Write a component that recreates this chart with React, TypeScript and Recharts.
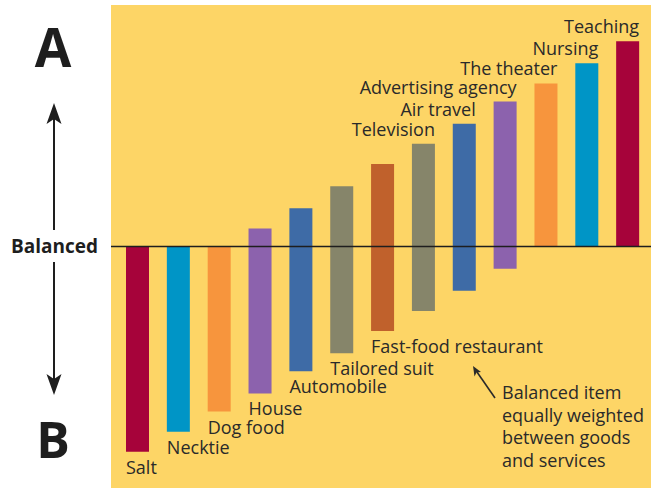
import React from 'react'
import {
  BarChart, Bar, XAxis, YAxis, CartesianGrid, ReferenceLine, LabelList, Cell,
} from 'recharts'

// goods (B) <-> services (A) continuum, values relative to the balanced line
const items = [
  'Salt', 'Necktie', 'Dog food', 'House', 'Automobile', 'Tailored suit',
  'Fast-food restaurant', 'Television', 'Air travel', 'Advertising agency',
  'The theater', 'Nursing', 'Teaching',
]
const lows = [-102, -92, -82, -73, -62, -53, -42, -32, -22, -11, 0, 0, 0]
const highs = [0, 0, 0, 9, 19, 30, 41, 51, 61, 72, 81, 91, 102]
const colors = [
  '#A6033A', '#0095C6', '#F7953D', '#8C62AD', '#3E6BA6', '#86856A', '#C0612C',
  '#86856A', '#3E6BA6', '#8C62AD', '#F7953D', '#0095C6', '#A6033A',
]
const noteLines = ['Balanced item', 'equally weighted', 'between goods', 'and services']

const data = items.map((name, i) => ({ name, range: [lows[i], highs[i]] }))

const FONT = '"Open Sans", sans-serif'
const INK = '#2a2a2a'

function BarLabel(props: any) {
  const x = Number(props.x), y = Number(props.y)
  const w = Number(props.width), h = Number(props.height)
  const i = props.index
  const top = Math.min(y, y + h)
  const bottom = Math.max(y, y + h)
  // mostly-goods items get their name under the bar, mostly-services above it
  const below = lows[i] + highs[i] <= 0
  return (
    <text
      x={below ? x : x + w}
      y={below ? bottom + 22 : top - 8}
      textAnchor={below ? 'start' : 'end'}
      fontFamily={FONT}
      fontSize={18}
      fill={INK}
    >
      {items[i]}
    </text>
  )
}

function Overlay() {
  return (
    <svg width={651} height={489} style={{ position: 'absolute', left: 0, top: 0, pointerEvents: 'none' }}>
      <text x={53} y={67} textAnchor="middle" fontFamily={FONT} fontWeight={700} fontSize={53} fill="#1e1e1e">A</text>
      <text x={53} y={458} textAnchor="middle" fontFamily={FONT} fontWeight={700} fontSize={50} fill="#1e1e1e">B</text>
      {/* up arrow */}
      <line x1={54} y1={230} x2={54} y2={112} stroke="#1e1e1e" strokeWidth={2} />
      <path d="M54 103 L61.5 124 L54 119 L46.5 124 Z" fill="#1e1e1e" />
      {/* down arrow */}
      <line x1={54} y1={262} x2={54} y2={386} stroke="#1e1e1e" strokeWidth={2} />
      <path d="M54 395 L61.5 374 L54 379 L46.5 374 Z" fill="#1e1e1e" />
      {/* note arrow */}
      <line x1={495} y1={398} x2={477} y2={372} stroke={INK} strokeWidth={1.6} />
      <path d="M473 366 L481 372 L476.5 372.5 L474.5 376.5 Z" fill={INK} />
      {noteLines.map((t, i) => (
        <text key={t} x={502} y={399 + i * 22.7} fontFamily={FONT} fontSize={18} fill={INK}>{t}</text>
      ))}
    </svg>
  )
}

export default function App() {
  return (
    <div style={{ position: 'absolute', left: 0, top: 0, width: 651, height: 489, background: '#fff' }}>
      <BarChart width={651} height={489} data={data} margin={{ top: 5, right: 0, left: 0, bottom: 1 }}>
        <CartesianGrid horizontal={false} vertical={false} fill="#FDD566" fillOpacity={1} />
        <XAxis dataKey="name" hide padding={{ left: 6, right: 3 }} />
        <YAxis
          domain={[-120, 120]}
          ticks={[0]}
          tickFormatter={() => 'Balanced'}
          width={111}
          axisLine={false}
          tickLine={false}
          tickSize={0}
          tickMargin={13}
          tick={{ fontSize: 19, fontWeight: 700, fill: '#1e1e1e', fontFamily: FONT }}
        />
        <ReferenceLine y={0} stroke="#1e1e1e" strokeWidth={1.5} />
        <Bar dataKey="range" barSize={23} isAnimationActive={false}>
          {data.map((d, i) => <Cell key={d.name} fill={colors[i]} />)}
          <LabelList dataKey="name" content={BarLabel} />
        </Bar>
      </BarChart>
      <Overlay />
    </div>
  )
}
